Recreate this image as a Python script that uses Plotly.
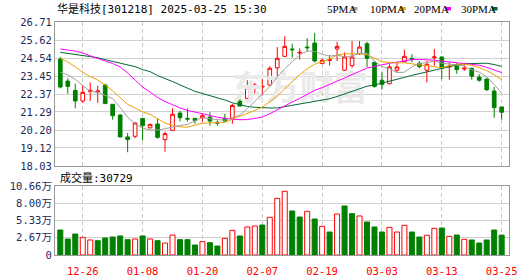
import plotly.graph_objects as go

# ---------------- data ----------------
dates = ["12-23", "12-24", "12-25", "12-26", "12-27", "12-30", "12-31",
         "01-02", "01-03", "01-06", "01-07", "01-08", "01-09", "01-10",
         "01-13", "01-14", "01-15", "01-16", "01-17", "01-20", "01-21",
         "01-22", "01-23", "01-24", "01-27", "02-05", "02-06", "02-07",
         "02-10", "02-11", "02-12", "02-13", "02-14", "02-17", "02-18",
         "02-19", "02-20", "02-21", "02-24", "02-25", "02-26", "02-27",
         "02-28", "03-03", "03-04", "03-05", "03-06", "03-07", "03-10",
         "03-11", "03-12", "03-13", "03-14", "03-17", "03-18", "03-19",
         "03-20", "03-21", "03-24", "03-25"]

open_ = [24.48, 23.15, 22.59, 21.95, 22.51, 22.49, 22.91, 21.75, 21.10, 19.78,
         19.82, 20.90, 20.33, 20.56, 19.62, 20.18, 21.22, 20.90, 20.90, 20.94,
         20.98, 20.67, 20.90, 20.86, 21.95, 22.11, 22.83, 22.79, 22.91, 23.95,
         24.64, 25.08, 24.84, 25.20, 25.44, 24.20, 24.40, 25.08, 23.80, 24.08,
         24.80, 25.40, 24.28, 23.20, 22.99, 23.80, 24.32, 24.52, 24.22, 23.80,
         24.56, 24.60, 24.00, 24.12, 23.88, 23.92, 23.39, 23.27, 22.55, 21.59]
high = [24.60, 23.32, 22.99, 22.87, 23.07, 22.87, 22.99, 21.75, 21.16, 20.02,
        20.66, 20.90, 20.58, 20.88, 20.10, 21.51, 21.35, 21.51, 20.92, 21.18,
        21.27, 20.78, 21.18, 21.78, 22.31, 23.20, 23.03, 23.27, 24.04, 25.20,
        25.85, 25.40, 25.12, 25.73, 26.05, 24.50, 24.72, 25.52, 24.88, 25.56,
        25.56, 25.52, 24.32, 23.68, 24.16, 24.32, 25.04, 24.76, 24.36, 24.36,
        25.08, 24.64, 24.28, 24.24, 24.16, 23.96, 23.56, 23.32, 22.79, 21.59]
low = [22.71, 22.39, 21.51, 21.83, 21.95, 21.83, 21.79, 20.82, 19.78, 18.86,
       19.70, 19.58, 20.30, 19.68, 18.89, 20.14, 20.71, 20.71, 20.58, 20.71,
       20.46, 20.46, 20.71, 20.58, 21.64, 21.99, 22.39, 22.31, 22.87, 23.39,
       24.60, 24.56, 24.44, 24.92, 24.28, 24.20, 24.08, 24.36, 23.76, 23.95,
       24.72, 23.99, 22.75, 22.63, 22.95, 23.68, 24.28, 24.28, 23.92, 23.07,
       24.08, 23.27, 23.23, 23.59, 23.76, 23.23, 23.11, 22.55, 20.94, 20.82]
close = [22.79, 22.83, 21.95, 22.47, 22.59, 22.55, 21.79, 21.06, 19.78, 19.62,
         20.62, 20.46, 20.54, 19.76, 19.98, 21.15, 20.94, 20.86, 20.78, 21.06,
         20.74, 20.62, 20.74, 21.68, 21.64, 22.75, 22.91, 22.83, 23.92, 24.52,
         25.24, 25.04, 24.88, 25.16, 24.36, 24.40, 24.44, 25.24, 24.60, 24.60,
         25.20, 24.52, 22.83, 22.95, 24.00, 24.00, 24.64, 24.44, 24.02, 24.16,
         24.60, 23.92, 24.04, 23.84, 23.92, 23.44, 23.20, 22.63, 21.55, 21.27]

# volume in lots (手)
volume = [38600, 24700, 32400, 27300, 23200, 22100, 26300, 27800, 29400, 23700,
          24700, 29400, 24700, 22100, 18500, 30900, 23700, 23700, 15400, 20600,
          19000, 13900, 25700, 38100, 29400, 43300, 44800, 46300, 58200, 87600,
          98400, 68000, 58700, 67500, 55600, 44300, 35500, 63300, 75700, 63900,
          60300, 51000, 43300, 35500, 42700, 35500, 45800, 35500, 27800, 30400,
          41200, 41700, 28800, 30900, 24200, 23200, 18500, 23200, 38600, 30729]
# 1 = up day (red hollow bar), 0 = down day (green bar)
vol_up = [0, 0, 0, 1, 1, 0, 0, 0, 0, 0, 1, 0, 1, 0, 1, 1, 0, 0, 0, 1,
          0, 0, 1, 1, 0, 1, 1, 0, 1, 1, 1, 0, 0, 1, 0, 1, 0, 1, 0, 0,
          1, 0, 0, 0, 1, 1, 1, 0, 0, 1, 1, 0, 1, 0, 1, 0, 0, 0, 0, 0]

# moving-average values before enough history is visible
ma5_head = [23.68, 23.52, 23.25, 22.90]
ma10_head = [24.52, 24.30, 24.01, 23.68, 23.42, 23.22, 22.91, 22.56, 22.15]
ma20_head = [25.08, 25.02, 24.96, 24.84, 24.66, 24.51, 24.36, 24.21, 24.00, 23.64,
             23.21, 22.79, 22.49, 22.16, 21.92, 21.71, 21.53, 21.38, 21.26]
ma30_head = [24.88, 24.82, 24.76, 24.70, 24.63, 24.56, 24.44, 24.34, 24.20, 24.10,
             24.02, 23.84, 23.72, 23.48, 23.32, 23.12, 22.92, 22.74, 22.53, 22.40,
             22.28, 22.14, 22.01, 21.84, 21.72, 21.62, 21.57, 21.54, 21.53]

price_ticks = [18.03, 19.12, 20.20, 21.29, 22.37, 23.45, 24.54, 25.62, 26.71]
vol_ticks = [0, 26700, 53300, 80000, 106600]
vol_tick_text = ["0", "2.67万", "5.33万", "8.00万", "10.66万"]
date_ticks = ["12-26", "01-08", "01-20", "02-07", "02-19", "03-03", "03-13", "03-25"]

title_text = "华是科技[301218] 2025-03-25 15:30"

# ---------------- styling ----------------
RED = "#FF0000"
GREEN = "#008000"
MA_COLORS = {"5PMA": "#A0A0A0", "10PMA": "#F0A000", "20PMA": "#FF00FF", "30PMA": "#006B30"}
AXIS_TXT = "#1E2A5A"
MONO = "DejaVu Sans Mono, Noto Sans CJK SC"


def moving_avg(head, n):
    out = list(head)
    for i in range(len(head), len(close)):
        out.append(round(sum(close[i - n + 1:i + 1]) / n, 3))
    return out


ma = {
    "5PMA": moving_avg(ma5_head, 5),
    "10PMA": moving_avg(ma10_head, 10),
    "20PMA": moving_avg(ma20_head, 20),
    "30PMA": moving_avg(ma30_head, 30),
}

fig = go.Figure()

# watermark (behind everything)
fig.add_trace(go.Scatter(
    x=["02-14"], y=[22.55], mode="text", text=["东方财富"],
    textfont=dict(size=34, color="#EAEAEA", family="Noto Sans CJK SC", weight="bold"),
    hoverinfo="skip", xaxis="x", yaxis="y"))

for name in ["30PMA", "20PMA", "10PMA", "5PMA"]:
    fig.add_trace(go.Scatter(
        x=dates, y=ma[name], mode="lines", name=name,
        line=dict(color=MA_COLORS[name], width=1), xaxis="x", yaxis="y"))

fig.add_trace(go.Candlestick(
    x=dates, open=open_, high=high, low=low, close=close,
    increasing=dict(line=dict(color=RED, width=1), fillcolor="#FFFFFF"),
    decreasing=dict(line=dict(color=GREEN, width=1), fillcolor=GREEN),
    whiskerwidth=0, xaxis="x", yaxis="y"))

fig.add_trace(go.Bar(
    x=dates, y=volume,
    marker=dict(color=["#FFFFFF" if u else GREEN for u in vol_up],
                line=dict(color=[RED if u else GREEN for u in vol_up], width=1)),
    xaxis="x2", yaxis="y2"))

common_x = dict(type="category", categoryorder="array", categoryarray=dates,
                range=[-0.71, 59.98], tickvals=date_ticks,
                showgrid=True, gridcolor="#C8C8C8", griddash="4px,3px", gridwidth=1,
                showline=True, mirror=True, linecolor="#999999", linewidth=1,
                ticks="", zeroline=False, fixedrange=True, automargin=False)

fig.update_layout(
    width=530, height=276,
    margin=dict(l=55, r=21, t=22, b=21, autoexpand=False),
    paper_bgcolor="white", plot_bgcolor="white",
    showlegend=False, bargap=0.33,
    font=dict(family=MONO, size=10, color="#000000"),
    xaxis=dict(common_x, anchor="y", showticklabels=False,
               rangeslider=dict(visible=False)),
    xaxis2=dict(common_x, anchor="y2", matches="x",
                ticktext=date_ticks, showticklabels=True, ticklabelstandoff=6,
                tickfont=dict(color=RED, size=10.5, family=MONO)),
    yaxis=dict(domain=[89 / 233, 1], range=[18.03, 26.71],
               tickvals=price_ticks, ticktext=[f"{v:.2f}" for v in price_ticks],
               showgrid=True, gridcolor="#D0D0D0", gridwidth=1,
               showline=True, mirror=True, linecolor="#999999", linewidth=1,
               ticks="", zeroline=False, automargin=False,
               tickfont=dict(color=AXIS_TXT, size=10.5)),
    yaxis2=dict(domain=[0, 69 / 233], range=[0, 106600],
                tickvals=vol_ticks, ticktext=vol_tick_text,
                showgrid=True, gridcolor="#D0D0D0", gridwidth=1,
                showline=True, mirror=True, linecolor="#999999", linewidth=1,
                ticks="", zeroline=False, automargin=False,
                tickfont=dict(color=AXIS_TXT, size=10.5)),
)

annotations = [
    dict(text=title_text, xref="paper", yref="paper", x=0.0, y=(255 - 8.5) / 233,
         xanchor="left", yanchor="middle", showarrow=False,
         font=dict(size=11, color="#000000", family=MONO)),
    dict(text=f"成交量:{volume[-1]}", xref="paper", yref="paper",
         x=(58 - 55) / 454, y=(255 - 177.5) / 233,
         xanchor="left", yanchor="middle", showarrow=False,
         font=dict(size=11, color="#000000", family=MONO)),
]
shapes = []
legend_pos = {"5PMA": (325, 352), "10PMA": (367.5, 400), "20PMA": (411.5, 445.5), "30PMA": (459, 492)}
for name, (tx, sx) in legend_pos.items():
    annotations.append(dict(text=name, xref="paper", yref="paper",
                            x=(tx - 55) / 454, y=(255 - 8.5) / 233,
                            xanchor="left", yanchor="middle", showarrow=False,
                            font=dict(size=11, color="#000000", family="Liberation Serif, serif")))
    shapes.append(dict(type="rect", xref="paper", yref="paper",
                       x0=(sx - 55) / 454, x1=(sx + 5.5 - 55) / 454,
                       y0=(255 - 10.5) / 233, y1=(255 - 7) / 233,
                       fillcolor=MA_COLORS[name], line=dict(width=0)))

fig.update_layout(annotations=annotations, shapes=shapes)

fig.write_html("out.html")
